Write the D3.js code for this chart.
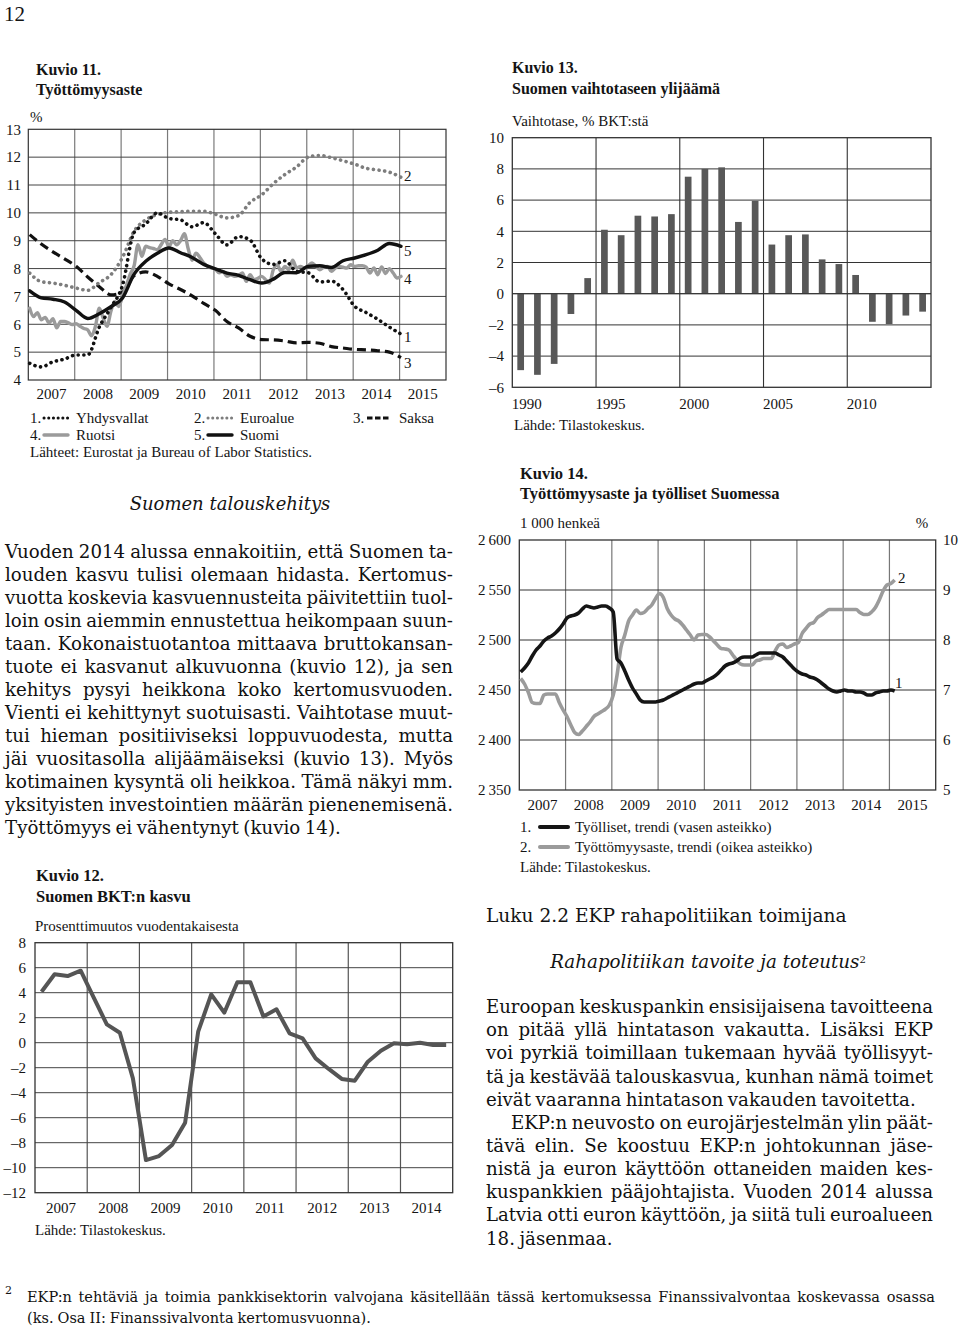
<!DOCTYPE html>
<html><head><meta charset="utf-8">
<script src="https://cdn.jsdelivr.net/npm/d3@7"></script>
<style>
body{margin:0;background:#fff;}
svg{display:block;}
</style></head>
<body>
<svg id="page" width="960" height="1328"></svg>
<script>
// ---------- DATA ----------
// Kuvio 11: quarterly (2007Q1 ... 2015Q1), Ruotsi monthly
const k11Years = [2007,2008,2009,2010,2011,2012,2013,2014,2015];
const k11YTicks = [4,5,6,7,8,9,10,11,12,13];
const usa = [4.6,4.47,4.65,4.75,4.9,4.9,5.9,6.6,7.4,9.3,9.6,10.0,9.8,9.75,9.5,9.65,9.25,8.85,9.15,9.02,8.35,8.15,8.28,7.9,7.85,7.52,7.55,7.25,6.65,6.42,6.18,5.9,5.65];
const euro = [7.84,7.53,7.48,7.4,7.3,7.22,7.5,7.78,8.4,9.34,9.75,9.94,10.02,10.04,10.06,10.06,9.95,9.82,9.9,10.38,10.65,11.05,11.38,11.65,12.0,12.06,11.98,11.87,11.75,11.6,11.54,11.46,11.28];
const saksa = [9.22,8.88,8.6,8.35,8.08,7.7,7.35,7.06,7.15,7.75,7.88,7.72,7.45,7.25,7.02,6.75,6.5,6.1,5.87,5.57,5.45,5.44,5.4,5.33,5.35,5.32,5.2,5.15,5.1,5.08,5.05,5.0,4.8];
const suomi = [7.2,6.95,6.9,6.8,6.5,6.21,6.38,6.63,6.94,7.8,8.26,8.55,8.74,8.57,8.4,8.15,7.99,7.84,7.76,7.6,7.48,7.62,7.86,7.85,8.08,8.1,8.04,8.28,8.38,8.5,8.66,8.9,8.8];
const ruotsi = [6.58,6.28,6.42,6.16,6.25,6.05,6.2,5.87,6.1,6.1,
 6.05,5.99,6.02,5.93,5.85,5.8,5.59,5.93,6.58,6.22,
 5.93,6.47,6.82,6.64,7.0,7.4,7.8,8.1,8.86,8.44,
 8.8,8.75,8.72,8.68,8.86,9.05,8.8,9.0,8.85,9.0,
 9.25,8.7,8.3,8.55,8.4,8.2,8.08,8.02,7.98,7.85,
 7.9,7.72,7.78,7.72,7.75,7.84,7.54,7.78,7.6,7.65,
 7.72,7.6,7.48,7.96,8.14,7.9,8.08,7.96,8.3,8.02,
 8.08,8.02,8.1,8.2,8.08,7.96,8.05,8.08,7.9,8.02,
 8.08,8.05,8.02,8.14,8.08,8.1,8.1,8.05,7.84,8.02,
 7.78,8.06,7.82,8.0,7.84,7.66,7.72];

// Kuvio 12: quarterly GDP growth 2007Q1..2014Q4
const k12Years = [2007,2008,2009,2010,2011,2012,2013,2014];
const k12YTicks = [-12,-10,-8,-6,-4,-2,0,2,4,6,8];
const bkt = [4.08,5.47,5.33,5.76,3.6,1.47,0.8,-2.85,-9.39,-9.07,-8.19,-6.4,0.88,3.87,2.4,4.83,4.83,2.1,2.67,0.75,0.35,-1.25,-2.1,-2.9,-3.04,-1.52,-0.64,-0.05,-0.13,0.0,-0.19,-0.19];

// Kuvio 13: current account, % of GDP, 1990..2014
const k13Years = d3.range(1990, 2015);
const k13Labels = [1990,1995,2000,2005,2010];
const k13YTicks = [-6,-4,-2,0,2,4,6,8,10];
const vaihtotase = [-4.9,-5.2,-4.5,-1.3,1.0,4.1,3.75,5.0,4.95,5.1,7.5,8.0,8.1,4.6,5.95,3.15,3.75,3.8,2.2,1.9,1.2,-1.8,-1.95,-1.4,-1.15];

// Kuvio 14: monthly trends 2007-01 .. 2015-02
const k14Years = [2007,2008,2009,2010,2011,2012,2013,2014,2015];
const k14LTicks = [2350,2400,2450,2500,2550,2600];
const k14RTicks = [5,6,7,8,9,10];
const tyolliset = [2468,2472,2477,2484,2490,2494,2499,2502,2504,2507,
 2511,2516,2522,2524,2525,2527,2531,2534,2533,2532,
 2533,2534,2534,2532,2528,2481,2477,2469,2460,2452,
 2446,2440,2438,2438,2438,2438,2439,2440,2442,2444,
 2446,2448,2450,2452,2454,2456,2457,2457,2459,2461,
 2463,2466,2470,2474,2476,2477,2479,2482,2483,2483,
 2483,2485,2487,2487,2487,2487,2487,2485,2483,2479,
 2475,2471,2468,2466,2465,2463,2462,2460,2457,2454,
 2451,2449,2448,2449,2450,2449,2449,2448,2448,2447,
 2445,2445,2447,2448,2449,2449,2450,2449];
const tyottomyys = [7.23,7.12,6.95,6.75,6.73,6.73,6.9,6.92,6.92,6.92,
 6.75,6.6,6.47,6.3,6.15,6.11,6.18,6.27,6.36,6.47,
 6.52,6.57,6.62,6.7,6.9,7.3,7.85,8.1,8.38,8.5,
 8.6,8.53,8.55,8.63,8.7,8.83,8.93,8.85,8.63,8.5,
 8.42,8.38,8.3,8.2,8.1,8.0,8.1,8.11,8.11,8.06,
 7.98,7.9,7.83,7.82,7.8,7.7,7.6,7.52,7.5,7.5,
 7.5,7.58,7.6,7.63,7.63,7.63,7.78,7.9,7.92,7.85,
 7.88,7.92,7.95,8.13,8.23,8.32,8.35,8.45,8.5,8.56,
 8.61,8.61,8.61,8.61,8.61,8.61,8.61,8.61,8.55,8.51,
 8.51,8.56,8.65,8.8,8.98,9.1,9.13,9.2];

// ---------- TEXT ----------
const leftBody = [
 ["Vuoden 2014 alussa ennakoitiin, että Suomen ta-",1],
 ["louden kasvu tulisi olemaan hidasta. Kertomus-",1],
 ["vuotta koskevia kasvuennusteita päivitettiin tuol-",1],
 ["loin osin aiemmin ennustettua heikompaan suun-",1],
 ["taan. Kokonaistuotantoa mittaava bruttokansan-",1],
 ["tuote ei kasvanut alkuvuonna (kuvio 12), ja sen",1],
 ["kehitys pysyi heikkona koko kertomusvuoden.",1],
 ["Vienti ei kehittynyt suotuisasti. Vaihtotase muut-",1],
 ["tui hieman positiiviseksi loppuvuodesta, mutta",1],
 ["jäi vuositasolla alijäämäiseksi (kuvio 13). Myös",1],
 ["kotimainen kysyntä oli heikkoa. Tämä näkyi mm.",1],
 ["yksityisten investointien määrän pienenemisenä.",1],
 ["Työttömyys ei vähentynyt (kuvio 14).",0]
];
const rightBody = [
 ["Euroopan keskuspankin ensisijaisena tavoitteena",1,0],
 ["on pitää yllä hintatason vakautta. Lisäksi EKP",1,0],
 ["voi pyrkiä toimillaan tukemaan hyvää työllisyyt-",1,0],
 ["tä ja kestävää talouskasvua, kunhan nämä toimet",1,0],
 ["eivät vaaranna hintatason vakauden tavoitetta.",0,0],
 ["EKP:n neuvosto on eurojärjestelmän ylin päät-",1,25],
 ["tävä elin. Se koostuu EKP:n johtokunnan jäse-",1,0],
 ["nistä ja euron käyttöön ottaneiden maiden kes-",1,0],
 ["kuspankkien pääjohtajista. Vuoden 2014 alussa",1,0],
 ["Latvia otti euron käyttöön, ja siitä tuli euroalueen",1,0],
 ["18. jäsenmaa.",0,0]
];

// ---------- HELPERS ----------
const svg = d3.select("#page");
const SERIF = '"Liberation Serif", "Times New Roman", serif';
const BODY = '"DejaVu Serif", serif';

function txt(x, y, s, o = {}) {
  return svg.append("text").attr("x", x).attr("y", y).attr("dy", "0.35em")
    .attr("text-anchor", o.anchor || "start")
    .style("font-family", o.family || SERIF)
    .style("font-size", (o.size || 15) + "px")
    .style("font-weight", o.weight || "normal")
    .style("font-style", o.style || "normal")
    .style("fill", o.fill || "#141414")
    .text(s);
}

function block(lines, x, width, y0, step, size, minGap, endWidth) {
  lines.forEach((ln, i) => {
    const [s, just, indent] = ln;
    const ind = indent || 0;
    const t = svg.append("text").attr("y", y0 + i * step).attr("dy", "0.35em")
      .style("font-family", BODY).style("font-size", size + "px").style("fill", "#111");
    const words = s.split(" ");
    const spans = words.map(w => t.append("tspan").text(w));
    const ws = spans.map(sp => sp.node().getComputedTextLength());
    const total = d3.sum(ws);
    const avail = (just ? width : (endWidth || width)) - ind;
    let gap = minGap;
    if (just && words.length > 1) gap = (avail - total) / (words.length - 1);
    let k = 1;
    if (gap < minGap || total + minGap * (words.length - 1) > avail) {
      gap = Math.min(Math.max(gap, minGap), minGap);
      k = Math.min(1, (avail - gap * (words.length - 1)) / total);
      if (just) gap = (avail - total * k) / Math.max(1, words.length - 1);
    }
    let cx = x + ind;
    spans.forEach((sp, j) => {
      sp.attr("x", cx);
      if (k < 1) sp.attr("textLength", ws[j] * k).attr("lengthAdjust", "spacingAndGlyphs");
      cx += ws[j] * k + gap;
    });
  });
}

function yLabels(g, scale, ticks, x, anchor, fmt) {
  g.selectAll(null).data(ticks).join("text")
    .attr("x", x).attr("y", d => scale(d)).attr("dy", "0.35em")
    .attr("text-anchor", anchor)
    .style("font-family", SERIF).style("font-size", "15px").style("fill", "#141414")
    .text(fmt || (d => d));
}
const dash = d => d < 0 ? "\u2013" + Math.abs(d) : String(d);

// ---------- PAGE ----------
txt(4, 14, "12", {size: 21});

// ===== Kuvio 11 =====
{
  txt(36, 69, "Kuvio 11.", {size: 16, weight: "bold"});
  txt(36, 89, "Työttömyysaste", {size: 16, weight: "bold"});
  txt(30, 117, "%", {size: 15});
  const x = d3.scaleLinear([2007, 2016], [28.3, 446]);
  const y = d3.scaleLinear([4, 13], [380, 129.3]);
  const g = svg.append("g");
  g.selectAll(null).data(d3.range(2008, 2016)).join("line")
    .attr("x1", d => x(d)).attr("x2", d => x(d)).attr("y1", y(13)).attr("y2", y(4))
    .attr("stroke", "#7a7a7a").attr("stroke-width", 1.2);
  g.selectAll(null).data(d3.range(5, 13)).join("line")
    .attr("x1", x(2007)).attr("x2", x(2016)).attr("y1", d => y(d)).attr("y2", d => y(d))
    .attr("stroke", "#444").attr("stroke-width", 1);
  g.append("rect").attr("x", x(2007)).attr("y", y(13)).attr("width", x(2016) - x(2007))
    .attr("height", y(4) - y(13)).attr("fill", "none").attr("stroke", "#333").attr("stroke-width", 1.2);
  yLabels(g, y, k11YTicks, 21, "end");
  g.selectAll(null).data(k11Years).join("text")
    .attr("x", d => x(d + 0.5)).attr("y", 394).attr("dy", "0.35em").attr("text-anchor", "middle")
    .style("font-family", SERIF).style("font-size", "15px").style("fill", "#141414").text(d => d);

  const q = (arr) => arr.map((v, i) => [2007 + i * 0.25 + 0.03, v]);
  const line = d3.line().x(d => x(d[0])).y(d => y(d[1])).curve(d3.curveMonotoneX);
  const styles = {
    usa:   {stroke: "#111", w: 3.6, da: "0.1 5.6", cap: "round"},
    euro:  {stroke: "#7d7d7d", w: 3.6, da: "0.1 5.6", cap: "round"},
    saksa: {stroke: "#111", w: 3.2, da: "9 5", cap: "butt"},
    ruotsi:{stroke: "#9b9b9b", w: 3.4, da: null, cap: "round"},
    suomi: {stroke: "#111", w: 3.4, da: null, cap: "round"}
  };
  const draw = (data, st) => g.append("path").attr("d", line(data)).attr("fill", "none")
    .attr("stroke", st.stroke).attr("stroke-width", st.w).attr("stroke-dasharray", st.da)
    .attr("stroke-linecap", st.cap).attr("stroke-linejoin", "round");
  draw(q(saksa), styles.saksa);
  draw(q(euro), styles.euro);
  draw(ruotsi.map((v, i) => [2007 + i / 12 + 0.03, v]), styles.ruotsi);
  draw(q(usa), styles.usa);
  draw(q(suomi), styles.suomi);
  [["2", 176], ["5", 251], ["4", 279], ["1", 337], ["3", 363]].forEach(([s, yy]) => {
    txt(404, yy, s, {size: 15});
  });
  // legend
  const leg = [
    ["1.", 30, 418, styles.usa, "Yhdysvallat"], ["2.", 194, 418, styles.euro, "Euroalue"],
    ["3.", 353, 418, styles.saksa, "Saksa"], ["4.", 30, 435, styles.ruotsi, "Ruotsi"],
    ["5.", 194, 435, styles.suomi, "Suomi"]];
  leg.forEach(([n, lx, ly, st, lab]) => {
    txt(lx, ly, n, {size: 15});
    g.append("line").attr("x1", lx + 14).attr("x2", lx + 38).attr("y1", ly).attr("y2", ly)
      .attr("stroke", st.stroke).attr("stroke-width", st.da && st.cap === "round" ? 3 : st.w)
      .attr("stroke-dasharray", st.da ? (st.cap === "round" ? "0.1 4.6" : "5.5 2.5") : null)
      .attr("stroke-linecap", st.cap);
    txt(lx + 46, ly, lab, {size: 15});
  });
  txt(30, 452, "Lähteet: Eurostat ja Bureau of Labor Statistics.", {size: 15});
}

// ===== Left column text =====
txt(230, 504, "Suomen talouskehitys", {family: BODY, size: 18, style: "italic", anchor: "middle"});
block(leftBody, 5, 448, 551.7, 23.03, 18.2, 4.5);

// ===== Kuvio 12 =====
{
  txt(36, 875, "Kuvio 12.", {size: 16.5, weight: "bold"});
  txt(36, 896, "Suomen BKT:n kasvu", {size: 16.5, weight: "bold"});
  txt(35, 926, "Prosenttimuutos vuodentakaisesta", {size: 15});
  const x = d3.scaleLinear([2007, 2015], [35, 452.7]);
  const y = d3.scaleLinear([-12, 8], [1192.7, 942.7]);
  const g = svg.append("g");
  g.selectAll(null).data(d3.range(2008, 2015)).join("line")
    .attr("x1", d => x(d)).attr("x2", d => x(d)).attr("y1", y(8)).attr("y2", y(-12))
    .attr("stroke", "#555").attr("stroke-width", 1.2);
  g.selectAll(null).data(d3.range(-10, 8, 2)).join("line")
    .attr("x1", x(2007)).attr("x2", x(2015)).attr("y1", d => y(d)).attr("y2", d => y(d))
    .attr("stroke", "#444").attr("stroke-width", 1);
  g.append("rect").attr("x", x(2007)).attr("y", y(8)).attr("width", x(2015) - x(2007))
    .attr("height", y(-12) - y(8)).attr("fill", "none").attr("stroke", "#333").attr("stroke-width", 1.3);
  yLabels(g, y, k12YTicks, 26, "end", dash);
  g.selectAll(null).data(k12Years).join("text")
    .attr("x", d => x(d + 0.5)).attr("y", 1208).attr("dy", "0.35em").attr("text-anchor", "middle")
    .style("font-family", SERIF).style("font-size", "15px").style("fill", "#141414").text(d => d);
  const line = d3.line().x((d, i) => x(2007 + (i + 0.5) / 4)).y(d => y(d));
  g.append("path").attr("d", line(bkt)).attr("fill", "none").attr("stroke", "#555")
    .attr("stroke-width", 4).attr("stroke-linejoin", "round");
  txt(35, 1230, "Lähde: Tilastokeskus.", {size: 15});
}

// ===== Kuvio 13 =====
{
  txt(512, 67, "Kuvio 13.", {size: 16, weight: "bold"});
  txt(512, 88, "Suomen vaihtotaseen ylijäämä", {size: 16, weight: "bold"});
  txt(512, 121, "Vaihtotase, % BKT:stä", {size: 15});
  const xl = d3.scaleLinear([1990, 2015], [512.3, 931]);
  const xb = d3.scaleBand(k13Years, [512.3, 931]).paddingInner(0.6).paddingOuter(0.3);
  const y = d3.scaleLinear([-6, 10], [387.3, 137.7]);
  const g = svg.append("g");
  g.selectAll(null).data([1995, 2000, 2005, 2010]).join("line")
    .attr("x1", d => xl(d)).attr("x2", d => xl(d)).attr("y1", y(10)).attr("y2", y(-6))
    .attr("stroke", "#333").attr("stroke-width", 1.1);
  g.selectAll(null).data(d3.range(-4, 10, 2)).join("line")
    .attr("x1", xl(1990)).attr("x2", xl(2015)).attr("y1", d => y(d)).attr("y2", d => y(d))
    .attr("stroke", "#333").attr("stroke-width", 1);
  g.append("rect").attr("x", xl(1990)).attr("y", y(10)).attr("width", xl(2015) - xl(1990))
    .attr("height", y(-6) - y(10)).attr("fill", "none").attr("stroke", "#333").attr("stroke-width", 1.3);
  g.selectAll(null).data(vaihtotase).join("rect")
    .attr("x", (d, i) => xb(k13Years[i])).attr("width", xb.bandwidth())
    .attr("y", d => y(Math.max(0, d))).attr("height", d => Math.abs(y(d) - y(0)))
    .attr("fill", "#585858");
  g.append("line").attr("x1", xl(1990)).attr("x2", xl(2015)).attr("y1", y(0)).attr("y2", y(0))
    .attr("stroke", "#333").attr("stroke-width", 1);
  yLabels(g, y, k13YTicks, 504, "end", dash);
  g.selectAll(null).data(k13Labels).join("text")
    .attr("x", d => xl(d) + 14.5).attr("y", 404).attr("dy", "0.35em").attr("text-anchor", "middle")
    .style("font-family", SERIF).style("font-size", "15px").style("fill", "#141414").text(d => d);
  txt(514, 425, "Lähde: Tilastokeskus.", {size: 15});
}

// ===== Kuvio 14 =====
{
  txt(520, 473, "Kuvio 14.", {size: 16.5, weight: "bold"});
  txt(520, 493, "Työttömyysaste ja työlliset Suomessa", {size: 16.5, weight: "bold"});
  txt(520, 523, "1 000 henkeä", {size: 15});
  txt(922, 523, "%", {size: 15, anchor: "middle"});
  const x = d3.scaleLinear([2007, 2016], [519.3, 935.7]);
  const yL = d3.scaleLinear([2350, 2600], [790, 540]);
  const yR = d3.scaleLinear([5, 10], [790, 540]);
  const g = svg.append("g");
  g.selectAll(null).data(d3.range(2008, 2016)).join("line")
    .attr("x1", d => x(d)).attr("x2", d => x(d)).attr("y1", 540).attr("y2", 790)
    .attr("stroke", "#777").attr("stroke-width", 1.2);
  g.selectAll(null).data([2400, 2450, 2500, 2550]).join("line")
    .attr("x1", x(2007)).attr("x2", x(2016)).attr("y1", d => yL(d)).attr("y2", d => yL(d))
    .attr("stroke", "#333").attr("stroke-width", 1);
  g.append("rect").attr("x", x(2007)).attr("y", 540).attr("width", x(2016) - x(2007))
    .attr("height", 250).attr("fill", "none").attr("stroke", "#333").attr("stroke-width", 1.3);
  yLabels(g, yL, k14LTicks, 511, "end", d => d3.format(",")(d).replace(",", "\u2009"));
  yLabels(g, yR, k14RTicks, 943, "start");
  g.selectAll(null).data(k14Years).join("text")
    .attr("x", d => x(d + 0.5)).attr("y", 805).attr("dy", "0.35em").attr("text-anchor", "middle")
    .style("font-family", SERIF).style("font-size", "15px").style("fill", "#141414").text(d => d);
  const lL = d3.line().x((d, i) => x(2007 + i / 12 + 0.03)).y(d => yL(d)).curve(d3.curveMonotoneX);
  const lR = d3.line().x((d, i) => x(2007 + i / 12 + 0.03)).y(d => yR(d)).curve(d3.curveMonotoneX);
  g.append("path").attr("d", lR(tyottomyys)).attr("fill", "none").attr("stroke", "#9b9b9b")
    .attr("stroke-width", 3.6).attr("stroke-linejoin", "round");
  g.append("path").attr("d", lL(tyolliset)).attr("fill", "none").attr("stroke", "#151515")
    .attr("stroke-width", 3.6).attr("stroke-linejoin", "round");
  txt(898, 578, "2", {size: 15});
  txt(895, 683, "1", {size: 15});
  txt(520, 827, "1.", {size: 15});
  g.append("line").attr("x1", 540).attr("x2", 568).attr("y1", 827).attr("y2", 827)
    .attr("stroke", "#151515").attr("stroke-width", 4).attr("stroke-linecap", "round");
  txt(575, 827, "Työlliset, trendi (vasen asteikko)", {size: 15});
  txt(520, 847, "2.", {size: 15});
  g.append("line").attr("x1", 540).attr("x2", 568).attr("y1", 847).attr("y2", 847)
    .attr("stroke", "#9b9b9b").attr("stroke-width", 4).attr("stroke-linecap", "round");
  txt(575, 847, "Työttömyysaste, trendi (oikea asteikko)", {size: 15});
  txt(520, 867, "Lähde: Tilastokeskus.", {size: 15});
}

// ===== Right column text =====
txt(486, 915, "Luku 2.2 EKP rahapolitiikan toimijana", {family: BODY, size: 18.6});
{
  const t = txt(708, 962, "Rahapolitiikan tavoite ja toteutus", {family: BODY, size: 18.3, style: "italic", anchor: "middle"});
  t.append("tspan").attr("dy", "-0.55em").style("font-size", "10px").style("font-style", "normal").text("2");
}
block(rightBody, 486, 447, 1006.7, 23.15, 18.2, 4.5, 432);

// ===== Footnote =====
txt(5, 1290, "2", {family: BODY, size: 11});
block([["EKP:n tehtäviä ja toimia pankkisektorin valvojana käsitellään tässä kertomuksessa Finanssivalvontaa koskevassa osassa", 1, 0],
       ["(ks. Osa II: Finanssivalvonta kertomusvuonna).", 0, 0]], 27, 908, 1297, 21, 14.5, 4);
</script>
</body></html>
